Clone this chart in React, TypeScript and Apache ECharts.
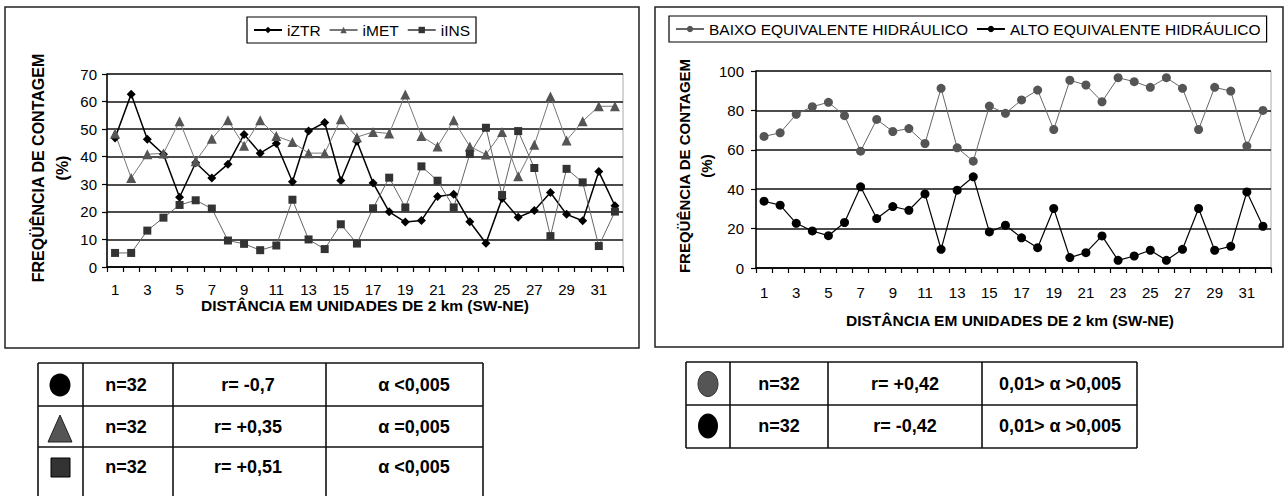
import React, { useEffect, useRef } from "react";
import * as echarts from "echarts";

const categories = ["1","2","3","4","5","6","7","8","9","10","11","12","13","14","15","16","17","18","19","20","21","22","23","24","25","26","27","28","29","30","31","32"];

const iZTR = [46.8, 62.7, 46.3, 40.9, 25.3, 37.8, 32.3, 37.3, 48.1, 41.3, 44.8, 30.9, 49.3, 52.4, 31.4, 45.6, 30.5, 20.0, 16.3, 16.9, 25.6, 26.4, 16.4, 8.6, 24.8, 18.0, 20.5, 27.0, 19.1, 16.8, 34.6, 22.2];
const iMET = [48.4, 32.3, 40.9, 41.2, 52.9, 38.4, 46.5, 53.2, 44.0, 53.2, 47.5, 45.3, 41.3, 41.3, 53.6, 47.1, 49.0, 48.4, 62.6, 47.5, 43.7, 53.2, 43.7, 40.8, 49.0, 32.9, 44.3, 61.8, 45.9, 52.9, 58.3, 58.3];
const iINS = [5.1, 5.1, 13.2, 17.9, 22.5, 24.2, 21.2, 9.6, 8.4, 6.1, 7.8, 24.4, 10.0, 6.5, 15.5, 8.5, 21.3, 32.4, 21.6, 36.5, 31.3, 21.6, 41.0, 50.5, 26.1, 49.3, 35.9, 11.2, 35.6, 30.7, 7.6, 20.1];

const baixo = [66.8, 68.6, 78.0, 81.9, 84.1, 77.3, 59.3, 75.4, 69.3, 70.8, 63.2, 91.2, 61.0, 54.2, 82.2, 78.5, 85.3, 90.3, 70.3, 95.3, 92.9, 84.4, 96.6, 94.6, 91.7, 96.6, 91.2, 70.3, 91.7, 89.8, 61.9, 80.0];
const alto = [33.9, 31.9, 22.7, 18.8, 16.4, 23.1, 41.2, 25.1, 31.2, 29.3, 37.6, 9.5, 39.5, 46.3, 18.3, 21.7, 15.3, 10.3, 30.2, 5.3, 7.8, 16.3, 3.9, 6.1, 9.0, 3.9, 9.5, 30.2, 9.0, 11.0, 38.6, 21.2];

const yTitle = "FREQÜÊNCIA DE CONTAGEM";
const yUnit = "(%)";
const xTitle = "DISTÂNCIA EM UNIDADES DE 2 km (SW-NE)";

const leftTableN = ["n=32", "n=32", "n=32"];
const leftTableR = ["r= -0,7", "r= +0,35", "r= +0,51"];
const leftTableA = ["α <0,005", "α =0,005", "α <0,005"];
const rightTableN = ["n=32", "n=32"];
const rightTableR = ["r= +0,42", "r= -0,42"];
const rightTableA = ["0,01> α >0,005", "0,01> α >0,005"];

const FONT = "'Liberation Sans', Arial, sans-serif";

function buildGraphics() {
  const g: any[] = [];
  g.push({ type: "rect", shape: { x: 5, y: 7, width: 634, height: 341 }, style: { fill: "none", stroke: "#222", lineWidth: 1.5 } });
  g.push({ type: "rect", shape: { x: 655, y: 7, width: 628, height: 340 }, style: { fill: "none", stroke: "#222", lineWidth: 1.5 } });

  const tStyle = (text: string, size: number, bold: boolean) => ({
    text, fontSize: size, fontWeight: bold ? "bold" : "normal", fontFamily: FONT, fill: "#000",
    textAlign: "center", textVerticalAlign: "middle",
  });
  g.push({ type: "text", x: 38, y: 168, rotation: Math.PI / 2, style: tStyle(yTitle, 16, true) });
  g.push({ type: "text", x: 62, y: 168, rotation: Math.PI / 2, style: tStyle(yUnit, 16, true) });
  g.push({ type: "text", x: 684, y: 166, rotation: Math.PI / 2, style: tStyle(yTitle, 15, true) });
  g.push({ type: "text", x: 706, y: 166, rotation: Math.PI / 2, style: tStyle(yUnit, 15, true) });
  g.push({ type: "text", x: 365, y: 305, style: tStyle(xTitle, 15.5, true) });
  g.push({ type: "text", x: 1010, y: 320, style: tStyle(xTitle, 15.5, true) });

  const line = (x1: number, y1: number, x2: number, y2: number) =>
    ({ type: "line", shape: { x1, y1, x2, y2 }, style: { stroke: "#111", lineWidth: 1.6 } });

  const lCols = [38, 83, 173, 326, 483];
  const lRows = [363, 406, 447, 500];
  lRows.forEach((y) => g.push(line(lCols[0], y, lCols[4], y)));
  lCols.forEach((x) => g.push(line(x, lRows[0], x, lRows[3])));
  const lCy = [385, 427, 467];
  lCy.forEach((cy, i) => {
    g.push({ type: "text", x: 126, y: cy, style: tStyle(leftTableN[i], 18, true) });
    g.push({ type: "text", x: 248, y: cy, style: tStyle(leftTableR[i], 18, true) });
    g.push({ type: "text", x: 414, y: cy, style: tStyle(leftTableA[i], 18, true) });
  });
  g.push({ type: "ellipse", shape: { cx: 60, cy: 385, rx: 10.5, ry: 11.5 }, style: { fill: "#000" } });
  g.push({ type: "polygon", shape: { points: [[60, 415], [48, 442], [72, 442]] }, style: { fill: "#555", stroke: "#222", lineWidth: 1 } });
  g.push({ type: "rect", shape: { x: 51, y: 458, width: 19, height: 19 }, style: { fill: "#333", stroke: "#000", lineWidth: 1 } });

  const rCols = [686, 730, 828, 982, 1137];
  const rRows = [362, 405, 448];
  rRows.forEach((y) => g.push(line(rCols[0], y, rCols[4], y)));
  rCols.forEach((x) => g.push(line(x, rRows[0], x, rRows[2])));
  const rCy = [384, 426];
  rCy.forEach((cy, i) => {
    g.push({ type: "text", x: 779, y: cy, style: tStyle(rightTableN[i], 18, true) });
    g.push({ type: "text", x: 905, y: cy, style: tStyle(rightTableR[i], 18, true) });
    g.push({ type: "text", x: 1060, y: cy, style: tStyle(rightTableA[i], 18, true) });
  });
  g.push({ type: "ellipse", shape: { cx: 708, cy: 384, rx: 10, ry: 12.5 }, style: { fill: "#555", stroke: "#333", lineWidth: 1 } });
  g.push({ type: "ellipse", shape: { cx: 708, cy: 426, rx: 10, ry: 12.5 }, style: { fill: "#000" } });
  return g;
}

export default function App() {
  const ref = useRef<HTMLDivElement>(null);
  useEffect(() => {
    if (!ref.current) return;
    const chart = echarts.init(ref.current, undefined, { renderer: "svg" });
    const axisLabel = { fontSize: 15, color: "#000", fontFamily: FONT };
    const xAxisBase = (gridIndex: number, margin: number) => ({
      type: "category",
      gridIndex,
      data: categories,
      boundaryGap: true,
      axisLine: { lineStyle: { color: "#000", width: 1.5 } },
      axisTick: { show: true, interval: 0, length: 5, lineStyle: { color: "#000", width: 1.2 } },
      axisLabel: { ...axisLabel, interval: 1, margin },
      splitLine: { show: false },
    });
    const yAxisBase = (gridIndex: number, max: number, interval: number, margin: number) => ({
      type: "value",
      gridIndex,
      min: 0,
      max,
      interval,
      axisLine: { show: true, lineStyle: { color: "#000", width: 1.5 } },
      axisTick: { show: true, length: 5, lineStyle: { color: "#000", width: 1.2 } },
      axisLabel: { ...axisLabel, margin },
      splitLine: { show: true, lineStyle: { color: "#111", width: 1.6 } },
    });
    const legendBase = {
      orient: "horizontal",
      borderColor: "#000",
      borderWidth: 1.2,
      borderRadius: 0,
      padding: [5, 6, 5, 6],
      itemWidth: 28,
      itemHeight: 8,
      itemGap: 8,
      textStyle: { fontSize: 15.5, color: "#000", fontFamily: FONT },
    };
    chart.setOption({
      animation: false,
      backgroundColor: "#fff",
      textStyle: { fontFamily: FONT },
      grid: [
        { left: 107, top: 74, width: 516, height: 193, show: true, borderColor: "#aaa", borderWidth: 1, backgroundColor: "transparent" },
        { left: 756, top: 71, width: 515, height: 197, show: true, borderColor: "#aaa", borderWidth: 1, backgroundColor: "transparent" },
      ],
      xAxis: [xAxisBase(0, 15), xAxisBase(1, 17)],
      yAxis: [yAxisBase(0, 70, 10, 10), yAxisBase(1, 100, 20, 12)],
      legend: [
        { ...legendBase, data: ["iZTR", "iMET", "iINS"], left: 247, top: 17 },
        { ...legendBase, data: ["BAIXO EQUIVALENTE HIDRÁULICO", "ALTO EQUIVALENTE HIDRÁULICO"], left: 669, top: 16 },
      ],
      series: [
        { name: "iZTR", type: "line", xAxisIndex: 0, yAxisIndex: 0, data: iZTR, symbol: "diamond", symbolSize: 9, itemStyle: { color: "#000" }, lineStyle: { color: "#000", width: 1.5 } },
        { name: "iMET", type: "line", xAxisIndex: 0, yAxisIndex: 0, data: iMET, symbol: "triangle", symbolSize: 10, itemStyle: { color: "#555" }, lineStyle: { color: "#777", width: 1 } },
        { name: "iINS", type: "line", xAxisIndex: 0, yAxisIndex: 0, data: iINS, symbol: "rect", symbolSize: 8, itemStyle: { color: "#333" }, lineStyle: { color: "#666", width: 1 } },
        { name: "BAIXO EQUIVALENTE HIDRÁULICO", type: "line", xAxisIndex: 1, yAxisIndex: 1, data: baixo, symbol: "circle", symbolSize: 9, itemStyle: { color: "#555" }, lineStyle: { color: "#666", width: 1 } },
        { name: "ALTO EQUIVALENTE HIDRÁULICO", type: "line", xAxisIndex: 1, yAxisIndex: 1, data: alto, symbol: "circle", symbolSize: 9, itemStyle: { color: "#000" }, lineStyle: { color: "#000", width: 1.2 } },
      ],
      graphic: buildGraphics(),
    });
    return () => chart.dispose();
  }, []);
  return <div ref={ref} style={{ position: "fixed", left: 0, top: 0, width: 1286, height: 496, background: "#fff" }} />;
}
